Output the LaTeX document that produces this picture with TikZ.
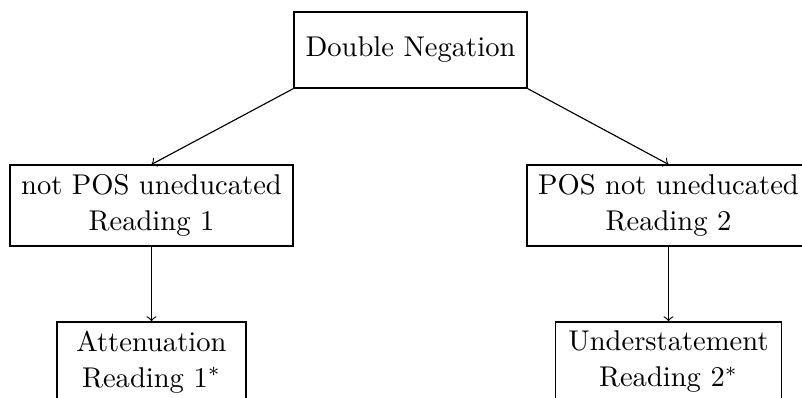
\documentclass[tikz,border=0pt]{standalone}
\begin{document}
\begin{tikzpicture}[x=0.35pt,y=-0.35pt,
  box/.style={draw, inner sep=0pt, align=center, font=\fontsize{10}{12.6}\selectfont},
  link/.style={->}]
\useasboundingbox (0,0) rectangle (802,398);
\clip (0,0) rectangle (802,398);
\node[box, minimum width=81.55pt, minimum height=26.6pt] (top) at (410.5,50) {Double Negation};
\node[box, minimum width=99.05pt, minimum height=28.35pt] (lm) at (151.5,205.5) {not POS uneducated\\Reading 1};
\node[box, minimum width=99.05pt, minimum height=28.35pt] (rm) at (668.5,205.5) {POS not uneducated\\Reading 2};
\node[box, minimum width=66.15pt, minimum height=28pt] (lb) at (151.5,362) {Attenuation\\Reading 1$^*$};
\node[box, minimum width=79.1pt, minimum height=28pt] (rb) at (668.5,362) {Understatement\\Reading 2$^*$};
\draw[link] (top.south west) -- (lm.north);
\draw[link] (top.south east) -- (rm.north);
\draw[link] (lm.south) -- (lb.north);
\draw[link] (rm.south) -- (rb.north);
\end{tikzpicture}
\end{document}
